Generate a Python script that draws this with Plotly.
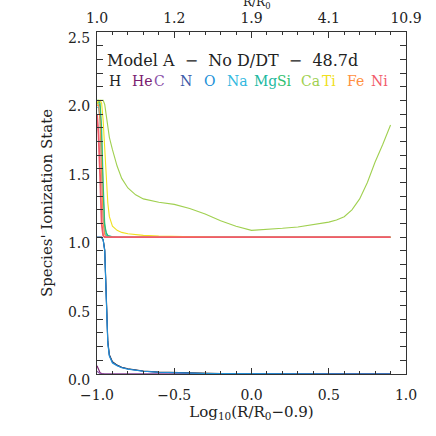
import plotly.graph_objects as go

# ---------------- data ----------------
x_grid = [-1.0, -0.99, -0.98, -0.97, -0.96, -0.95, -0.94, -0.93, -0.92, -0.9,
          -0.87, -0.84, -0.8, -0.75, -0.7, -0.6, -0.5, -0.4, -0.3, -0.2,
          -0.1, 0.0, 0.1, 0.2, 0.3, 0.4, 0.5, 0.55, 0.6, 0.65,
          0.7, 0.75, 0.8, 0.85, 0.9]

H_vals = [1.0, 1.0, 1.0, 1.0, 0.98, 0.91, 0.58, 0.24, 0.14, 0.09,
          0.065, 0.05, 0.038, 0.028, 0.022, 0.014, 0.01, 0.007, 0.005, 0.003,
          0.002, 0.001, 0, 0, 0, 0, 0, 0, 0, 0,
          0, 0, 0, 0, 0]
He_vals = [0.06, 0.03, 0.01, 0.003, 0, 0, 0, 0, 0, 0,
           0, 0, 0, 0, 0, 0, 0, 0, 0, 0,
           0, 0, 0, 0, 0, 0, 0, 0, 0, 0,
           0, 0, 0, 0, 0]
C_vals = [0.02, 0.01, 0.003, 0, 0, 0, 0, 0, 0, 0,
          0, 0, 0, 0, 0, 0, 0, 0, 0, 0,
          0, 0, 0, 0, 0, 0, 0, 0, 0, 0,
          0, 0, 0, 0, 0]
N_vals = [1.0, 1.0, 1.0, 1.0, 0.98, 0.9, 0.56, 0.23, 0.135, 0.085,
          0.062, 0.048, 0.036, 0.026, 0.02, 0.013, 0.009, 0.006, 0.004, 0.003,
          0.002, 0.001, 0, 0, 0, 0, 0, 0, 0, 0,
          0, 0, 0, 0, 0]
O_vals = [1.0, 1.0, 1.0, 1.0, 0.98, 0.9, 0.55, 0.22, 0.13, 0.08,
          0.06, 0.045, 0.035, 0.025, 0.02, 0.013, 0.009, 0.006, 0.004, 0.003,
          0.002, 0.001, 0, 0, 0, 0, 0, 0, 0, 0,
          0, 0, 0, 0, 0]
Na_vals = [1.95, 1.95, 1.85, 1.5, 1.15, 1.03, 1.01, 1.0, 1.0, 1.0,
           1.0, 1.0, 1.0, 1.0, 1.0, 1.0, 1.0, 1.0, 1.0, 1.0,
           1.0, 1.0, 1.0, 1.0, 1.0, 1.0, 1.0, 1.0, 1.0, 1.0,
           1.0, 1.0, 1.0, 1.0, 1.0]
Mg_vals = [1.98, 1.99, 1.95, 1.7, 1.3, 1.08, 1.03, 1.015, 1.01, 1.003,
           1.0, 1.0, 1.0, 1.0, 1.0, 1.0, 1.0, 1.0, 1.0, 1.0,
           1.0, 1.0, 1.0, 1.0, 1.0, 1.0, 1.0, 1.0, 1.0, 1.0,
           1.0, 1.0, 1.0, 1.0, 1.0]
Si_vals = [2.0, 2.0, 1.98, 1.8, 1.4, 1.1, 1.03, 1.01, 1.005, 1.0,
           1.0, 1.0, 1.0, 1.0, 1.0, 1.0, 1.0, 1.0, 1.0, 1.0,
           1.0, 1.0, 1.0, 1.0, 1.0, 1.0, 1.0, 1.0, 1.0, 1.0,
           1.0, 1.0, 1.0, 1.0, 1.0]
Ca_vals = [1.97, 1.99, 2.0, 2.0, 2.0, 1.97, 1.88, 1.8, 1.73, 1.64,
           1.52, 1.43, 1.36, 1.31, 1.28, 1.255, 1.24, 1.21, 1.17, 1.12,
           1.08, 1.05, 1.055, 1.065, 1.075, 1.09, 1.11, 1.125, 1.15, 1.2,
           1.28, 1.4, 1.55, 1.68, 1.82]
Ti_vals = [1.98, 2.0, 2.0, 1.98, 1.85, 1.65, 1.42, 1.25, 1.15, 1.08,
           1.05, 1.035, 1.025, 1.018, 1.013, 1.008, 1.005, 1.003, 1.0, 1.0,
           1.0, 1.0, 1.0, 1.0, 1.0, 1.0, 1.0, 1.0, 1.0, 1.0,
           1.0, 1.0, 1.0, 1.0, 1.0]
Fe_vals = [1.96, 1.97, 1.85, 1.45, 1.1, 1.02, 1.0, 1.0, 1.0, 1.0,
           1.0, 1.0, 1.0, 1.0, 1.0, 1.0, 1.0, 1.0, 1.0, 1.0,
           1.0, 1.0, 1.0, 1.0, 1.0, 1.0, 1.0, 1.0, 1.0, 1.0,
           1.0, 1.0, 1.0, 1.0, 1.0]
Ni_vals = [1.9, 1.75, 1.45, 1.1, 1.01, 1.0, 1.0, 1.0, 1.0, 1.0,
           1.0, 1.0, 1.0, 1.0, 1.0, 1.0, 1.0, 1.0, 1.0, 1.0,
           1.0, 1.0, 1.0, 1.0, 1.0, 1.0, 1.0, 1.0, 1.0, 1.0,
           1.0, 1.0, 1.0, 1.0, 1.0]

species = ["H", "He", "C", "N", "O", "Na", "Mg", "Si", "Ca", "Ti", "Fe", "Ni"]
series = [H_vals, He_vals, C_vals, N_vals, O_vals, Na_vals, Mg_vals, Si_vals,
          Ca_vals, Ti_vals, Fe_vals, Ni_vals]
colors = ["#222222", "#7a2070", "#8a50a8", "#3a5aa8", "#2090d8", "#30b8e0",
          "#20b8a0", "#30c070", "#a0d050", "#f0e020", "#ff9040", "#f25a6a"]
widths = [1.1, 1.1, 1.1, 1.1, 1.1, 1.1, 1.1, 1.1, 1.1, 1.1, 1.1, 1.8]

bottom_ticks = [-1.0, -0.5, 0.0, 0.5, 1.0]
bottom_labels = ["\u22121.0", "\u22120.5", "0.0", "0.5", "1.0"]
top_labels = ["1.0", "1.2", "1.9", "4.1", "10.9"]
y_ticks = [0.0, 0.5, 1.0, 1.5, 2.0, 2.5]
y_labels = ["0.0", "0.5", "1.0", "1.5", "2.0", "2.5"]

title_text = "Model A&nbsp;&nbsp;\u2212&nbsp;&nbsp;No D/DT&nbsp;&nbsp;\u2212&nbsp;&nbsp;48.7d"
# pixel x-positions of species names in legend line
name_px = [107, 130, 152, 178, 202, 225, 252, 275, 299, 320, 345, 369]

# ---------------- figure ----------------
FONT = "DejaVu Serif"
L, R, T, B = 97, 30, 32, 62
W = H = 436
pw = W - L - R
ph = H - T - B

fig = go.Figure()
for name, vals, col, lw in zip(species, series, colors, widths):
    fig.add_trace(go.Scatter(x=x_grid, y=vals, mode="lines", name=name,
                             line=dict(color=col, width=lw), showlegend=False))
# invisible trace to activate top axis
fig.add_trace(go.Scatter(x=[x_grid[0]], y=[None], xaxis="x2", showlegend=False,
                         hoverinfo="skip"))

axis_common = dict(showgrid=False, zeroline=False, linecolor="#333", linewidth=1,
                   ticks="inside", ticklen=6, tickcolor="#333", tickwidth=1,
                   automargin=False,
                   tickfont=dict(family=FONT, size=14, color="#222"))
minor = dict(ticks="inside", ticklen=3, dtick=0.1, tick0=0, tickcolor="#333",
             showgrid=False)

fig.update_layout(
    width=W, height=H,
    margin=dict(l=L, r=R, t=T, b=B),
    paper_bgcolor="white", plot_bgcolor="white",
    xaxis=dict(range=[-1.0, 1.0], tickvals=bottom_ticks, ticktext=bottom_labels,
               mirror=True, minor=minor, ticklabelstandoff=8,
               title=dict(text="Log<sub>10</sub>(R/R<sub>0</sub>\u22120.9)",
                          font=dict(family=FONT, size=15, color="#222"), standoff=2),
               **axis_common),
    xaxis2=dict(range=[-1.0, 1.0], tickvals=bottom_ticks, ticktext=top_labels,
                overlaying="x", side="top", anchor="y", minor=minor,
                ticklabelstandoff=2,
                **axis_common),
    yaxis=dict(range=[0, 2.5], tickvals=y_ticks, ticktext=y_labels, mirror="allticks",
               minor=minor, ticklabelshift=6, ticklabelstandoff=3,
               title=dict(text="Species' Ionization State",
                          font=dict(family=FONT, size=15, color="#222"), standoff=11),
               **axis_common),
)

def px2paper(px, py):
    return (px - L) / pw, (H - B - py) / ph

ann = []
x0, y0 = px2paper(105, 61)
ann.append(dict(x=x0, y=y0, xref="paper", yref="paper", xanchor="left", yanchor="middle",
                text=title_text, showarrow=False,
                font=dict(family=FONT, size=16, color="#222")))
for nm, px, col in zip(species, name_px, colors):
    xx, yy = px2paper(px, 81)
    ann.append(dict(x=xx, y=yy, xref="paper", yref="paper", xanchor="left",
                    yanchor="middle", text=nm, showarrow=False,
                    font=dict(family=FONT, size=14, color=col)))
xt, yt = px2paper(256, 3)
ann.append(dict(x=xt, y=yt, xref="paper", yref="paper", xanchor="center",
                yanchor="middle", text="R/R<sub>0</sub>", showarrow=False,
                font=dict(family=FONT, size=12, color="#222")))
fig.update_layout(annotations=ann)

fig.write_html("out.html", config={"displayModeBar": False},
               post_script="document.body.style.margin='0';")
